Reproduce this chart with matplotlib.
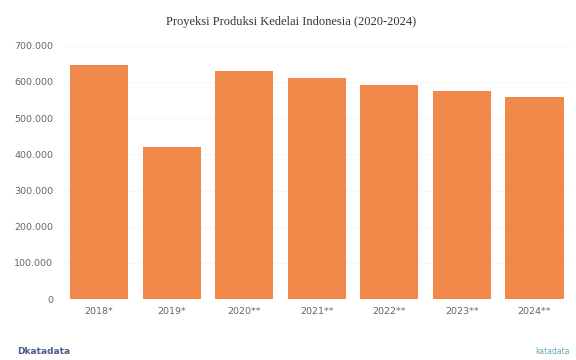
import matplotlib.pyplot as plt
import numpy as np

tahun = ['2018*', '2019*', '2020**', '2021**', '2022**', '2023**', '2024**']
produksi = [647000, 420000, 631000, 611000, 592000, 575000, 559000]
yticks = [0, 100000, 200000, 300000, 400000, 500000, 600000, 700000]
ylabels = ['0', '100.000', '200.000', '300.000', '400.000', '500.000', '600.000', '700.000']

fig = plt.figure(figsize=(5.76, 3.6), dpi=100)
ax = fig.add_axes([0.109, 0.169, 0.882, 0.704])

x = np.arange(len(tahun))
ax.bar(x, produksi, width=0.8, color='#F0884A', zorder=2)
ax.set_xlim(-0.5, len(tahun) - 0.5)
ax.set_ylim(0, 700000)
ax.set_yticks(yticks)
ax.set_yticklabels(ylabels)
ax.set_xticks(x)
ax.set_xticklabels(tahun)
ax.tick_params(axis='both', length=0, labelsize=6.8, colors='#666666')
ax.tick_params(axis='x', pad=6)
ax.tick_params(axis='y', pad=7)
ax.grid(axis='y', color='#eeeeee', linewidth=0.6, linestyle=(0, (2, 2)), zorder=0)
for s in ax.spines.values():
    s.set_visible(False)
ax.axhline(0, color='#dde8ee', linewidth=0.8, zorder=1)

fig.text(0.505, 0.94, 'Proyeksi Produksi Kedelai Indonesia (2020-2024)',
         ha='center', va='center', fontsize=9, family='Liberation Serif', color='#333333')
fig.text(0.03, 0.025, 'Dkatadata', ha='left', va='center', fontsize=6.5,
         color='#4a5a8a', fontweight='bold')
fig.text(0.99, 0.025, 'katadata', ha='right', va='center', fontsize=5.5, color='#6aa7b8')

fig.savefig('out.png', dpi=100)
